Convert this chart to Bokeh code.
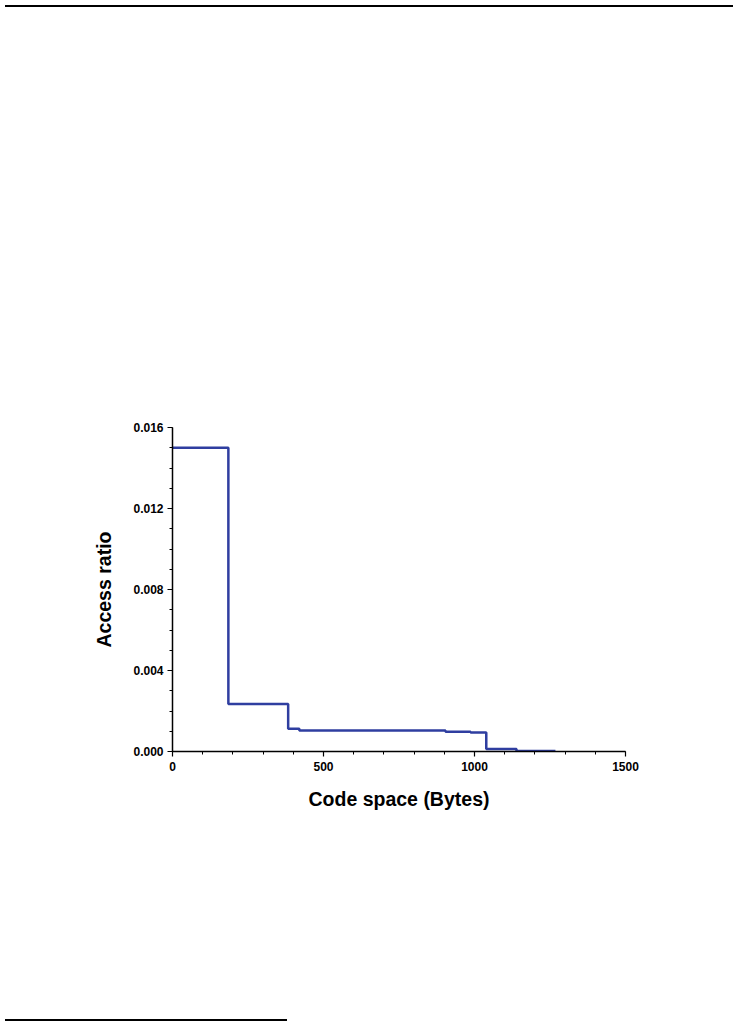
from bokeh.plotting import figure
from bokeh.models import (Range1d, SingleIntervalTicker, PrintfTickFormatter, Div)
from bokeh.layouts import column
from bokeh.embed import file_html
from bokeh.resources import INLINE

# Data: step function of access ratio vs code space
code_space = [0, 185, 383, 420, 904, 987, 1039, 1139, 1268]
access_ratio = [0.015, 0.00235, 0.00112, 0.00104, 0.00098, 0.00094, 0.00012, 0.00003, 0.00003]

x_ticks = [0, 500, 1000, 1500]
y_ticks = [0.000, 0.004, 0.008, 0.012, 0.016]

FONT = "Liberation Sans"

p = figure(width=728, height=1002, output_backend="svg", toolbar_location=None,
           x_range=Range1d(0, 1500), y_range=Range1d(0, 0.016),
           min_border_left=172, min_border_right=103,
           min_border_top=415, min_border_bottom=263)
p.outline_line_color = None
p.xgrid.grid_line_color = None
p.ygrid.grid_line_color = None
p.background_fill_color = "white"
p.border_fill_color = "white"

p.step(code_space, access_ratio, mode="after", line_color="#2f3ea0", line_width=2.5)

p.xaxis.ticker = SingleIntervalTicker(interval=500, num_minor_ticks=5)
p.yaxis.ticker = SingleIntervalTicker(interval=0.004, num_minor_ticks=4)
p.xaxis.formatter = PrintfTickFormatter(format="%d")
p.yaxis.formatter = PrintfTickFormatter(format="%.3f")

for ax in (p.xaxis, p.yaxis):
    ax.axis_line_color = "black"
    ax.axis_line_width = 1.5
    ax.major_tick_line_color = "black"
    ax.major_tick_line_width = 1.2
    ax.minor_tick_line_color = "black"
    ax.major_tick_out = 5
    ax.major_tick_in = 0
    ax.minor_tick_out = 3
    ax.minor_tick_in = 0
    ax.major_label_text_font = FONT
    ax.major_label_text_font_style = "bold"
    ax.major_label_text_font_size = "12px"
    ax.major_label_text_color = "black"
    ax.axis_label_text_font = FONT
    ax.axis_label_text_font_style = "bold"
    ax.axis_label_text_font_size = "19.5px"
    ax.axis_label_text_color = "black"

p.xaxis.axis_label = "Code space (Bytes)"
p.yaxis.axis_label = "Access ratio"
p.xaxis.major_label_standoff = 5
p.yaxis.major_label_standoff = 4
p.xaxis.axis_label_standoff = 14
p.yaxis.axis_label_standoff = 15

top_rule = Div(width=728, height=2, styles={"background-color": "black"})
bottom_rule = Div(width=282, height=2, styles={"background-color": "black"})

layout = column(top_rule, p, bottom_rule, spacing=0)

open("out.html", "w").write(file_html(layout, INLINE))
